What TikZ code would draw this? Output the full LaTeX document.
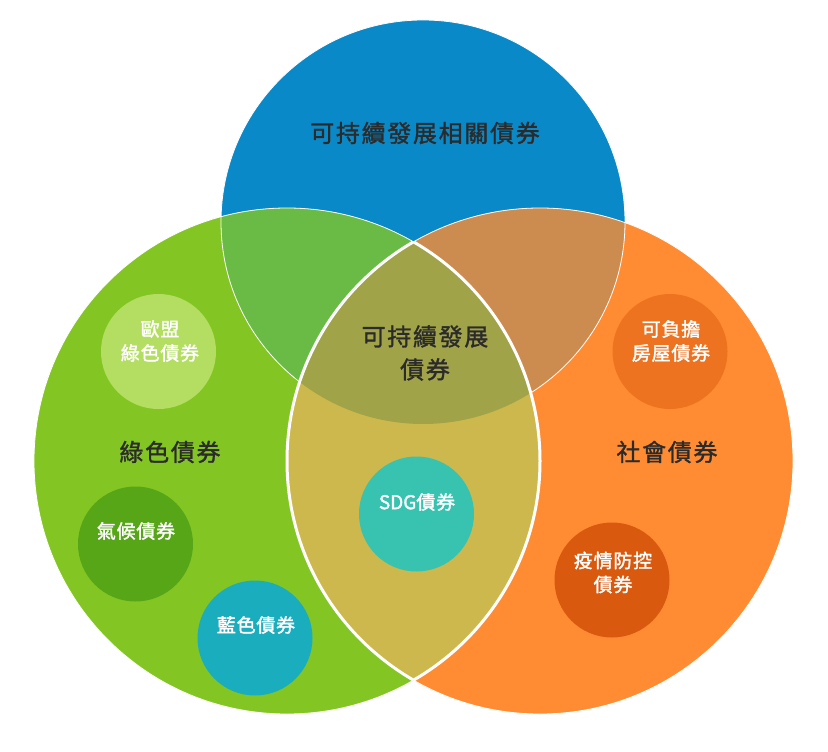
\documentclass[tikz,border=0pt]{standalone}
\usepackage{fontspec}
\setmainfont{Noto Sans CJK TC}
\newfontfamily\bigf[LetterSpace=7,FakeBold=1.3]{Noto Sans CJK TC}
\newfontfamily\smallf[LetterSpace=4,FakeBold=1.6]{Noto Sans CJK TC}
\definecolor{blueC}{HTML}{0A89C8}
\definecolor{greenC}{HTML}{83C623}
\definecolor{orangeC}{HTML}{FF8C33}
\definecolor{bgC}{HTML}{69BB45}
\definecolor{boC}{HTML}{CC8B4F}
\definecolor{tripleC}{HTML}{A0A348}
\definecolor{lensC}{HTML}{CDB84E}
\definecolor{euC}{HTML}{B3DE62}
\definecolor{climC}{HTML}{56A617}
\definecolor{bbC}{HTML}{1AADBD}
\definecolor{sdgC}{HTML}{38C2B0}
\definecolor{housC}{HTML}{EE7320}
\definecolor{pandC}{HTML}{D9590F}
\definecolor{textC}{HTML}{2B2B2B}
\tikzset{
  thinwhite/.style={draw=white, line width=0.8pt},
  thickwhite/.style={draw=white, line width=3pt},
  bub/.style={circle, minimum size=115pt, inner sep=0pt},
  bigtxt/.style={font=\bigf\fontsize{24}{33}\selectfont, text=textC, inner sep=0pt, align=center},
  smalltxt/.style={font=\smallf\fontsize{19}{24}\selectfont, text=white, inner sep=0pt, align=center}
}
\begin{document}
\begin{tikzpicture}[x=1pt,y=-1pt]
\useasboundingbox (0,0) rectangle (828,752);
\coordinate (cB) at (423,222);
\coordinate (cG) at (287,461);
\coordinate (cO) at (540,461);
% base fills
\fill[blueC] (cB) circle[radius=202pt];
\fill[greenC] (cG) circle[radius=253pt];
\fill[orangeC] (cO) circle[radius=253pt];
% overlaps with the blue circle
\begin{scope}
  \clip (cB) circle[radius=202pt];
  \fill[bgC] (cG) circle[radius=253pt];
  \fill[boC] (cO) circle[radius=253pt];
\end{scope}
% thin boundaries
\draw[thinwhite] (cB) circle[radius=202pt];
\draw[thinwhite] (cG) circle[radius=253pt];
\draw[thinwhite] (cO) circle[radius=253pt];
% lens and triple region
\begin{scope}
  \clip (cG) circle[radius=253pt];
  \fill[lensC] (cO) circle[radius=253pt];
  \clip (cO) circle[radius=253pt];
  \fill[tripleC] (cB) circle[radius=202pt];
\end{scope}
% thick lens outline
\begin{scope}
  \clip (cG) circle[radius=253pt];
  \draw[thickwhite] (cO) circle[radius=253pt];
\end{scope}
\begin{scope}
  \clip (cO) circle[radius=253pt];
  \draw[thickwhite] (cG) circle[radius=253pt];
\end{scope}
% small circles
\node[bub, fill=euC] (eu) at (158.5,351.5) {};
\node[bub, fill=climC] (clim) at (135.5,544) {};
\node[bub, fill=bbC] (bb) at (255,638) {};
\node[bub, fill=sdgC] (sdg) at (416.5,514) {};
\node[bub, fill=housC] (hous) at (670,351.5) {};
\node[bub, fill=pandC] (pand) at (612,580) {};
% big labels
\node[bigtxt] (tsus) at (425,133) {可持續發展相關債券};
\node[bigtxt] (tsb) at (425,353) {可持續發展\\債券};
\node[bigtxt] (tg) at (170,452) {綠色債券};
\node[bigtxt] (ts) at (667,452) {社會債券};
% small labels
\node[smalltxt] (teu) at (160,341) {歐盟\\綠色債券};
\node[smalltxt] (tclim) at (136,531) {氣候債券};
\node[smalltxt] (tbb) at (256,625) {藍色債券};
\node[smalltxt] (tsdg) at (417,502) {{\addfontfeature{LetterSpace=0}SDG}債券};
\node[smalltxt] (thous) at (671,341) {可負擔\\房屋債券};
\node[smalltxt] (tpand) at (613,572.5) {疫情防控\\債券};
\end{tikzpicture}
\end{document}
